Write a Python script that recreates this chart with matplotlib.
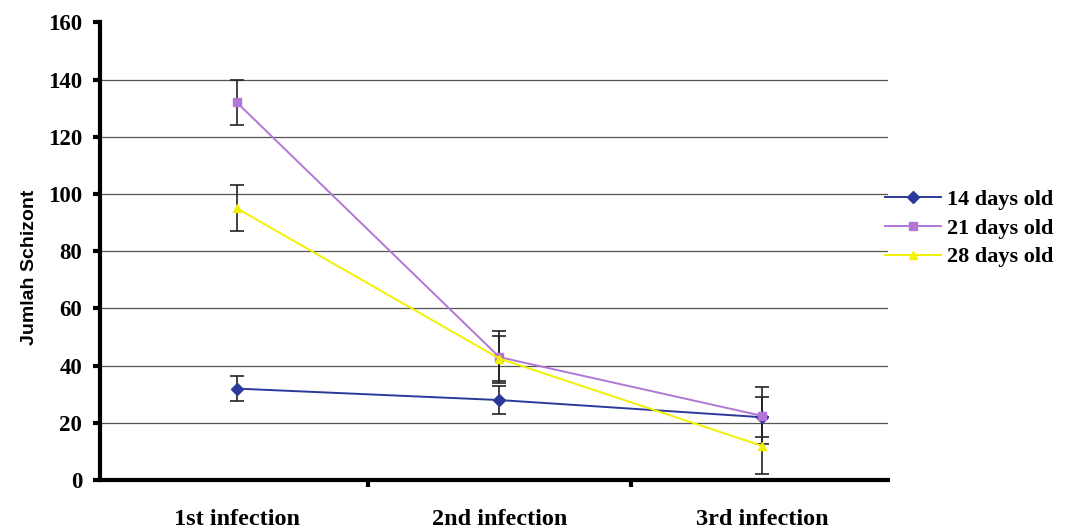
import numpy as np
import matplotlib
matplotlib.use("Agg")
from matplotlib import pyplot as plt

categories = ["1st infection", "2nd infection", "3rd infection"]
series = ["14 days old", "21 days old", "28 days old"]
d14 = [32, 28, 22]
d14_err = [4.5, 5, 7]
d21 = [132, 43, 22.5]
d21_err = [8, 9, 10]
d28 = [95, 42.5, 12]
d28_err = [8, 8, 10]

colors = ["#2B3A9A", "#B277D6", "#F2F200"]
markers = ["D", "s", "^"]

serif = "Liberation Serif"
fig = plt.figure(figsize=(10.66, 5.3), dpi=100)
ax = fig.add_axes([0.094, 0.094, 0.739, 0.864])

x = np.arange(len(categories))
handles = []
for vals, errs, c, m, lab in zip([d14, d21, d28], [d14_err, d21_err, d28_err],
                                 colors, markers, series):
    ax.errorbar(x, vals, yerr=errs, fmt="none", ecolor="#222222",
                elinewidth=1.2, capsize=5, capthick=1.2, zorder=3)
    h, = ax.plot(x, vals, color=c, marker=m, markersize=6, linewidth=1.4,
                 label=lab, zorder=4)
    handles.append(h)

ax.set_xlim(-0.52, 2.48)
ax.set_ylim(0, 160)
ax.set_yticks(np.arange(0, 161, 20))
ax.set_xticks([0.5, 1.5])
ax.set_xticklabels([])
for i, cat in enumerate(categories):
    ax.text(i, -10, cat, ha="center", va="top", fontsize=17.5,
            fontweight="bold", family=serif)

for yv in np.arange(20, 141, 20):
    ax.axhline(yv, color="#555555", linewidth=0.9, zorder=1)
for s in ["top", "right"]:
    ax.spines[s].set_visible(False)
for s in ["left", "bottom"]:
    ax.spines[s].set_linewidth(3)
ax.tick_params(axis="both", direction="out", length=5, width=3)
ax.tick_params(axis="y", pad=8)
for t in ax.get_yticklabels():
    t.set_fontfamily(serif)
    t.set_fontweight("bold")
    t.set_fontsize(16.5)

ax.set_ylabel("Jumlah Schizont", fontsize=14, fontweight="bold",
              family="Liberation Sans")
ax.yaxis.set_label_coords(-0.079, 0.465)

leg = ax.legend(handles=handles, loc="center left", bbox_to_anchor=(0.985, 0.55),
                frameon=False, borderaxespad=0,
                prop={"family": serif, "weight": "bold", "size": 16},
                handlelength=2.5, handletextpad=0.3, labelspacing=0.37)

fig.savefig("out.png", dpi=100)
